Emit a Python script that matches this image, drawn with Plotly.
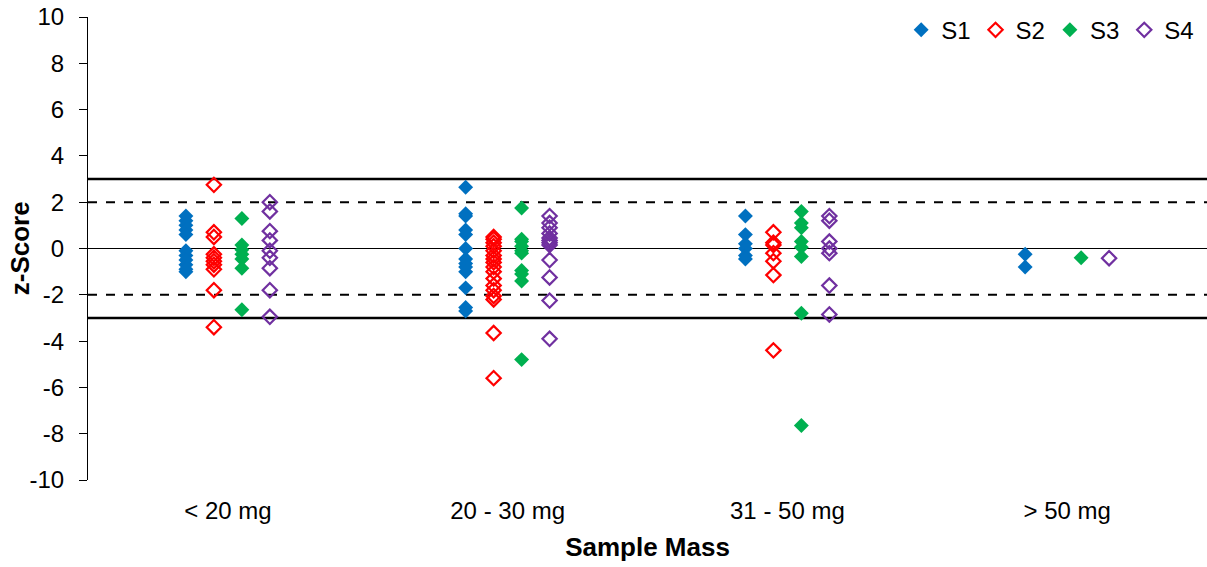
import plotly.graph_objects as go

# Sample mass classes on the horizontal axis
categories = ["< 20 mg", "20 - 30 mg", "31 - 50 mg", "> 50 mg"]

# z-scores per sample set, one list per mass class
s1_scores = [
    [1.4, 1.2, 1.0, 0.8, 0.6, -0.1, -0.3, -0.5, -0.7, -0.9, -1.0],
    [2.65, 1.5, 1.4, 0.8, 0.6, 0.0, -0.45, -0.65, -0.8, -1.0, -1.7, -2.55, -2.7],
    [1.4, 0.6, 0.2, 0.0, -0.3, -0.45],
    [-0.25, -0.8],
]
s2_scores = [
    [2.75, 0.7, 0.5, -0.25, -0.4, -0.55, -0.7, -0.9, -1.8, -3.4],
    [0.5, 0.4, 0.25, 0.1, -0.1, -0.3, -0.45, -0.6, -0.8, -1.0, -1.3, -1.6, -1.8, -2.05, -2.2, -3.65, -5.6],
    [0.7, 0.25, 0.15, -0.2, -0.55, -1.15, -4.4],
    [],
]
s3_scores = [
    [1.3, 0.15, -0.05, -0.25, -0.45, -0.85, -2.65],
    [1.75, 0.4, 0.3, 0.1, -0.1, -0.2, -0.95, -1.1, -1.4, -4.8],
    [1.6, 1.1, 0.9, 0.3, 0.05, -0.35, -2.8, -7.65],
    [-0.4],
]
s4_scores = [
    [2.0, 1.6, 0.75, 0.35, -0.1, -0.4, -0.85, -1.8, -2.95],
    [1.4, 1.1, 0.9, 0.65, 0.45, 0.35, 0.25, 0.15, -0.5, -1.25, -2.25, -3.9],
    [1.4, 1.2, 0.3, 0.0, -0.2, -1.6, -2.85],
    [-0.42],
]

# y-axis ticks from -10 to 10 in steps of 2
y_ticks = list(range(-10, 11, 2))

series_names = ["S1", "S2", "S3", "S4"]
series_scores = [s1_scores, s2_scores, s3_scores, s4_scores]
series_colors = ["#0070C0", "#FF0000", "#00B050", "#7030A0"]
series_symbols = ["diamond", "diamond-open", "diamond", "diamond-open"]
series_offsets = [-0.15, -0.05, 0.05, 0.15]

fig = go.Figure()

for name, scores, color, symbol, offset in zip(
    series_names, series_scores, series_colors, series_symbols, series_offsets
):
    xs, ys = [], []
    for idx, vals in enumerate(scores):
        xs.extend([idx + offset] * len(vals))
        ys.extend(vals)
    if symbol.endswith("open"):
        marker = dict(symbol=symbol, size=11, color=color, line=dict(width=2.2, color=color))
    else:
        marker = dict(symbol=symbol, size=11.5, color=color, line=dict(width=0))
    fig.add_trace(go.Scatter(x=xs, y=ys, mode="markers", name=name, marker=marker))

# Acceptance limits: |z| <= 2 satisfactory, |z| >= 3 unsatisfactory
limit_lines = [
    (3, 2.4, "solid"), (-3, 2.4, "solid"),
    (2, 2, "dash"), (-2, 2, "dash"),
    (0, 1.2, "solid"),
]
for yv, w, dash in limit_lines:
    fig.add_shape(type="line", xref="paper", x0=0, x1=1, yref="y", y0=yv, y1=yv,
                  line=dict(color="black", width=w, dash=dash), layer="below")

font_family = "Liberation Sans, Arial, sans-serif"

# Vertical axis title placed next to the tick labels
fig.add_annotation(
    text="<b>z-Score</b>", textangle=-90, xref="paper", yref="paper",
    x=-0.061, y=0.5, xanchor="center", yanchor="middle", showarrow=False,
    font=dict(size=26, family=font_family, color="black"),
)

fig.update_layout(
    width=1207, height=567,
    margin=dict(l=88, r=0, t=17, b=87),
    paper_bgcolor="white", plot_bgcolor="white",
    font=dict(family=font_family, size=24, color="black"),
    showlegend=True,
    legend=dict(orientation="h", x=0.993, xanchor="right", y=1.02, yanchor="top",
                font=dict(size=24), itemwidth=30, tracegroupgap=0,
                bgcolor="rgba(0,0,0,0)"),
    xaxis=dict(
        range=[-0.5, 3.5], tickmode="array", tickvals=list(range(len(categories))),
        ticktext=categories, showgrid=False, zeroline=False, showline=False,
        ticks="", ticklabelstandoff=14, tickfont=dict(size=24),
        title=dict(text="<b>Sample Mass</b>", font=dict(size=26), standoff=14),
    ),
    yaxis=dict(
        range=[-10, 10], tickmode="array", tickvals=y_ticks,
        ticktext=[str(v) for v in y_ticks], tickfont=dict(size=24),
        showgrid=False, zeroline=False, showline=True, linecolor="black", linewidth=1,
        ticks="outside", ticklen=8, tickcolor="black", ticklabelstandoff=10,
    ),
)

fig.write_html("out.html")
